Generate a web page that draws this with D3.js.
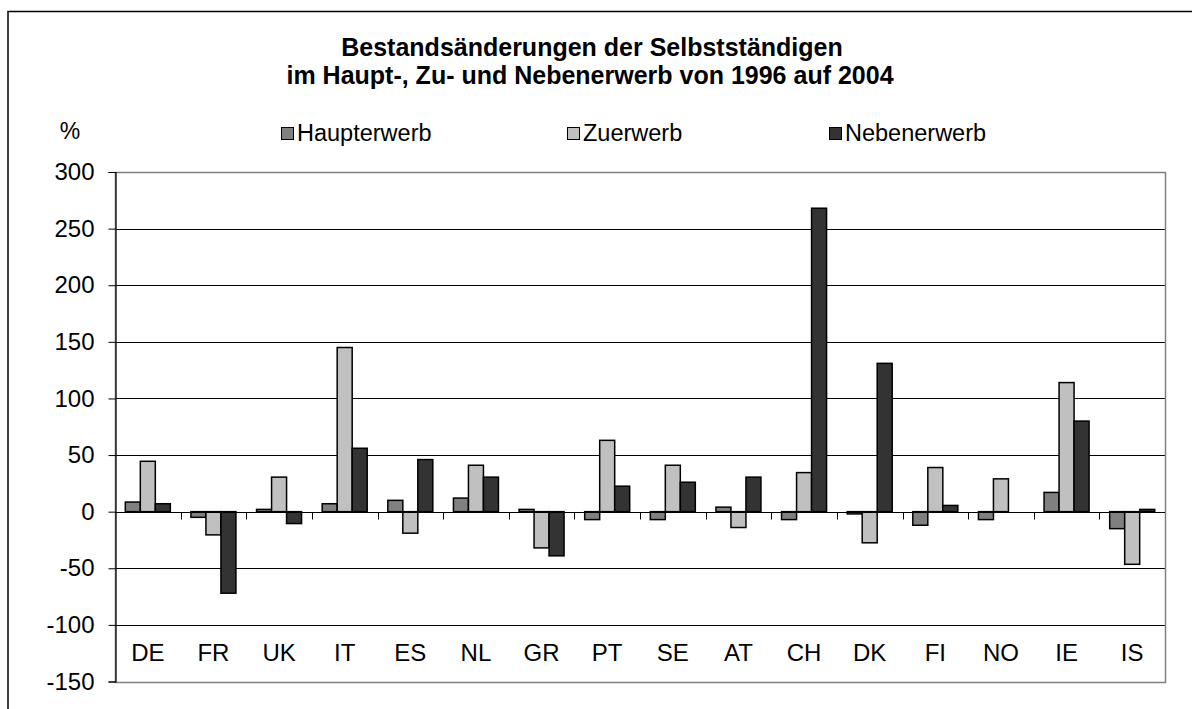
<!DOCTYPE html>
<html lang="de">
<head>
<meta charset="UTF-8">
<title>Bestandsänderungen der Selbstständigen</title>
<script src="https://d3js.org/d3.v7.min.js"></script>
<style>
  body { margin: 0; background: #fff; }
  text { font-family: "Liberation Sans", Arial, sans-serif; fill: #000; }
</style>
</head>
<body>
<script>
// data
var countries = ["DE","FR","UK","IT","ES","NL","GR","PT","SE","AT","CH","DK","FI","NO","IE","IS"];
var seriesNames = ["Haupterwerb", "Zuerwerb", "Nebenerwerb"];
var haupterwerb = [8.5, -5, 2, 7, 10, 12, 2, -7, -7, 4, -7, -2, -12, -7, 17, -15];
var zuerwerb = [44.5, -20.5, 30.5, 145, -19, 41, -32, 63, 41, -14, 34.5, -27.5, 39, 29, 114, -46.5];
var nebenerwerb = [7, -72, -10.5, 56, 46, 30.5, -39, 22.5, 26, 30.5, 268, 131, 5.5, 0, 80, 2];
var yTicks = [300, 250, 200, 150, 100, 50, 0, -50, -100, -150];
var colors = ["#808080", "#c0c0c0", "#333333"];

var width = 1192, height = 709;
var plotL = 115, plotR = 1165, plotT = 172, plotB = 681.5;

var svg = d3.select("body").append("svg")
  .attr("width", width)
  .attr("height", height);

// outer chart border (runs off the picture on right and bottom)
svg.append("rect")
  .attr("x", 8).attr("y", 11.5)
  .attr("width", 1300).attr("height", 800)
  .attr("fill", "none").attr("stroke", "#000").attr("stroke-width", 1.5);

var x = d3.scaleBand().domain(countries).range([plotL, plotR]);
var barW = 15;
var xs = d3.scaleBand().domain(seriesNames).range([0, barW * 3]);
var y = d3.scaleLinear().domain([-150, 300]).range([plotB, plotT]);

// gridlines
svg.append("g").selectAll("line")
  .data(yTicks.filter(function(d) { return d != 300 && d != -150 && d != 0; }))
  .enter().append("line")
  .attr("x1", plotL).attr("x2", plotR)
  .attr("y1", function(d) { return Math.round(y(d)) + 0.5; })
  .attr("y2", function(d) { return Math.round(y(d)) + 0.5; })
  .attr("stroke", "#000").attr("stroke-width", 1);

// plot area border (gray)
svg.append("rect")
  .attr("x", plotL + 0.5).attr("y", Math.round(plotT) + 0.5)
  .attr("width", plotR - plotL).attr("height", Math.round(plotB) - Math.round(plotT))
  .attr("fill", "none").attr("stroke", "#808080").attr("stroke-width", 1.5);

// y axis (plain hyphen for negatives, like the original)
var yAxis = d3.axisLeft(y).tickValues(yTicks).tickSize(7).tickPadding(14)
  .tickFormat(function(d) { return String(d); });
var ga = svg.append("g")
  .attr("transform", "translate(" + (plotL + 0.5) + ",0)")
  .call(yAxis);
ga.select(".domain").attr("stroke", "#000").attr("stroke-width", 1.2);
ga.selectAll(".tick line").attr("stroke", "#000");
ga.selectAll(".tick text")
  .style("font-size", "24px")
  .attr("fill", "#000");

// bars
var series = [haupterwerb, zuerwerb, nebenerwerb];
var offset = (x.bandwidth() - barW * 3) / 2;
series.forEach(function(vals, si) {
  svg.append("g").selectAll("rect")
    .data(vals)
    .enter().append("rect")
    .attr("x", function(d, i) { return x(countries[i]) + offset + xs(seriesNames[si]); })
    .attr("y", function(d) { return y(Math.max(0, d)); })
    .attr("width", xs.bandwidth())
    .attr("height", function(d) { return Math.abs(y(d) - y(0)); })
    .attr("fill", colors[si])
    .attr("stroke", "#000")
    .attr("stroke-width", 1.5);
});

// category axis at zero
var zeroY = Math.round(y(0)) + 0.5;
svg.append("line")
  .attr("x1", plotL).attr("x2", plotR)
  .attr("y1", zeroY).attr("y2", zeroY)
  .attr("stroke", "#000").attr("stroke-width", 1.2);
svg.append("g").selectAll("line")
  .data(countries.slice(1))
  .enter().append("line")
  .attr("x1", function(d) { return Math.round(x(d)) + 0.5; })
  .attr("x2", function(d) { return Math.round(x(d)) + 0.5; })
  .attr("y1", zeroY).attr("y2", zeroY + 7)
  .attr("stroke", "#000");

// category labels near the bottom
svg.append("g").selectAll("text")
  .data(countries)
  .enter().append("text")
  .attr("x", function(d) { return x(d) + x.bandwidth() / 2; })
  .attr("y", 661)
  .attr("text-anchor", "middle")
  .style("font-size", "24px")
  .text(function(d) { return d; });

// title
var title = svg.append("text")
  .attr("text-anchor", "middle")
  .style("font-size", "25px").style("font-weight", "bold");
title.append("tspan").attr("x", 592).attr("y", 56).text("Bestandsänderungen der Selbstständigen");
title.append("tspan").attr("x", 590).attr("y", 84).text("im Haupt-, Zu- und Nebenerwerb von 1996 auf 2004");

// unit
svg.append("text")
  .attr("x", 70).attr("y", 139)
  .attr("text-anchor", "middle")
  .style("font-size", "23px")
  .text("%");

// legend
var legendX = [281, 567, 829];
var lg = svg.append("g").selectAll("g")
  .data(seriesNames)
  .enter().append("g")
  .attr("transform", function(d, i) { return "translate(" + legendX[i] + ",0)"; });
lg.append("rect")
  .attr("x", 0.5).attr("y", 127.5)
  .attr("width", 12).attr("height", 12)
  .attr("fill", function(d, i) { return colors[i]; })
  .attr("stroke", "#000").attr("stroke-width", 1);
lg.append("text")
  .attr("x", 16).attr("y", 141)
  .style("font-size", "23.5px")
  .text(function(d) { return d; });
</script>
</body>
</html>
